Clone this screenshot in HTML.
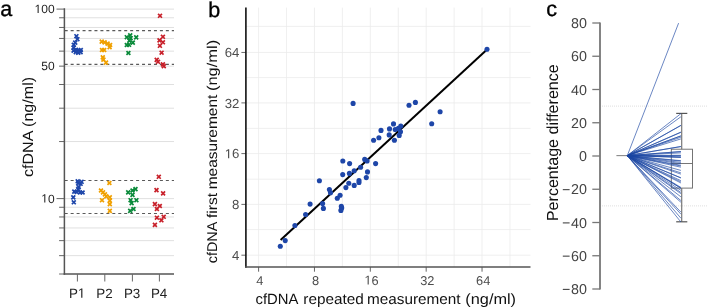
<!DOCTYPE html>
<html><head><meta charset="utf-8"><style>
html,body{margin:0;padding:0;background:#fff;}
svg{display:block;font-family:"Liberation Sans", sans-serif;text-rendering:geometricPrecision;will-change:transform;}
</style></head><body>
<svg width="708" height="308" viewBox="0 0 708 308">
<line x1="64.4" y1="9.10" x2="174" y2="9.10" stroke="#e0e0e0" stroke-width="1"/>
<line x1="64.4" y1="17.77" x2="174" y2="17.77" stroke="#e0e0e0" stroke-width="1"/>
<line x1="64.4" y1="27.46" x2="174" y2="27.46" stroke="#e0e0e0" stroke-width="1"/>
<line x1="64.4" y1="38.45" x2="174" y2="38.45" stroke="#e0e0e0" stroke-width="1"/>
<line x1="64.4" y1="51.14" x2="174" y2="51.14" stroke="#e0e0e0" stroke-width="1"/>
<line x1="64.4" y1="66.15" x2="174" y2="66.15" stroke="#e0e0e0" stroke-width="1"/>
<line x1="64.4" y1="84.51" x2="174" y2="84.51" stroke="#e0e0e0" stroke-width="1"/>
<line x1="64.4" y1="108.19" x2="174" y2="108.19" stroke="#e0e0e0" stroke-width="1"/>
<line x1="64.4" y1="141.55" x2="174" y2="141.55" stroke="#e0e0e0" stroke-width="1"/>
<line x1="64.4" y1="198.60" x2="174" y2="198.60" stroke="#e0e0e0" stroke-width="1"/>
<line x1="64.4" y1="207.27" x2="174" y2="207.27" stroke="#e0e0e0" stroke-width="1"/>
<line x1="64.4" y1="216.96" x2="174" y2="216.96" stroke="#e0e0e0" stroke-width="1"/>
<line x1="64.4" y1="227.95" x2="174" y2="227.95" stroke="#e0e0e0" stroke-width="1"/>
<line x1="64.4" y1="240.64" x2="174" y2="240.64" stroke="#e0e0e0" stroke-width="1"/>
<line x1="64.4" y1="255.65" x2="174" y2="255.65" stroke="#e0e0e0" stroke-width="1"/>
<line x1="64.7" y1="30.6" x2="174" y2="30.6" stroke="#5a5a5a" stroke-width="1.1" stroke-dasharray="3 2.95"/>
<line x1="64.7" y1="64.4" x2="174" y2="64.4" stroke="#5a5a5a" stroke-width="1.1" stroke-dasharray="3 2.95"/>
<line x1="64.7" y1="180.5" x2="174" y2="180.5" stroke="#5a5a5a" stroke-width="1.1" stroke-dasharray="3 2.95"/>
<line x1="64.7" y1="213.5" x2="174" y2="213.5" stroke="#5a5a5a" stroke-width="1.1" stroke-dasharray="3 2.95"/>
<line x1="56.5" y1="9.10" x2="64.4" y2="9.10" stroke="#666" stroke-width="1"/>
<line x1="59.1" y1="17.77" x2="64.4" y2="17.77" stroke="#666" stroke-width="1"/>
<line x1="59.1" y1="27.46" x2="64.4" y2="27.46" stroke="#666" stroke-width="1"/>
<line x1="59.1" y1="38.45" x2="64.4" y2="38.45" stroke="#666" stroke-width="1"/>
<line x1="59.1" y1="51.14" x2="64.4" y2="51.14" stroke="#666" stroke-width="1"/>
<line x1="59.1" y1="66.15" x2="64.4" y2="66.15" stroke="#666" stroke-width="1"/>
<line x1="59.1" y1="84.51" x2="64.4" y2="84.51" stroke="#666" stroke-width="1"/>
<line x1="59.1" y1="108.19" x2="64.4" y2="108.19" stroke="#666" stroke-width="1"/>
<line x1="59.1" y1="141.55" x2="64.4" y2="141.55" stroke="#666" stroke-width="1"/>
<line x1="56.5" y1="198.60" x2="64.4" y2="198.60" stroke="#666" stroke-width="1"/>
<line x1="59.1" y1="207.27" x2="64.4" y2="207.27" stroke="#666" stroke-width="1"/>
<line x1="59.1" y1="216.96" x2="64.4" y2="216.96" stroke="#666" stroke-width="1"/>
<line x1="59.1" y1="227.95" x2="64.4" y2="227.95" stroke="#666" stroke-width="1"/>
<line x1="59.1" y1="240.64" x2="64.4" y2="240.64" stroke="#666" stroke-width="1"/>
<line x1="59.1" y1="255.65" x2="64.4" y2="255.65" stroke="#666" stroke-width="1"/>
<line x1="59.1" y1="274.01" x2="64.4" y2="274.01" stroke="#666" stroke-width="1"/>
<line x1="64.4" y1="8.3" x2="64.4" y2="274.7" stroke="#555" stroke-width="1.5"/>
<line x1="63.650000000000006" y1="274" x2="174" y2="274" stroke="#555" stroke-width="1.5"/>
<line x1="77.4" y1="274" x2="77.4" y2="281.5" stroke="#666" stroke-width="1"/>
<text x="77.1" y="297.7" font-size="13.4" text-anchor="middle" fill="#222">P </text><path d="M515,0L515,1237L197,1010L197,1180L530,1409L696,1409L696,0Z" fill="#222" transform="translate(77.843,297.7) scale(0.006543,-0.006543)"/>
<line x1="104.8" y1="274" x2="104.8" y2="281.5" stroke="#666" stroke-width="1"/>
<text x="104.5" y="297.7" font-size="13.4" text-anchor="middle" fill="#222">P2</text>
<line x1="132.4" y1="274" x2="132.4" y2="281.5" stroke="#666" stroke-width="1"/>
<text x="132.1" y="297.7" font-size="13.4" text-anchor="middle" fill="#222">P3</text>
<line x1="159.4" y1="274" x2="159.4" y2="281.5" stroke="#666" stroke-width="1"/>
<text x="159.1" y="297.7" font-size="13.4" text-anchor="middle" fill="#222">P4</text>
<text x="54.6" y="13.1" font-size="12" text-anchor="end" fill="#222"> 00</text><path d="M515,0L515,1237L197,1010L197,1180L530,1409L696,1409L696,0Z" fill="#222" transform="translate(34.579,13.1) scale(0.005859,-0.005859)"/>
<text x="54.6" y="70.0" font-size="12" text-anchor="end" fill="#222">50</text>
<text x="54.6" y="202.6" font-size="12" text-anchor="end" fill="#222"> 0</text><path d="M515,0L515,1237L197,1010L197,1180L530,1409L696,1409L696,0Z" fill="#222" transform="translate(41.252,202.6) scale(0.005859,-0.005859)"/>
<text transform="translate(33,177) rotate(-90)" font-size="14.8" textLength="100.1" lengthAdjust="spacingAndGlyphs" fill="#111">cfDNA (ng/ml)</text>
<text x="0.2" y="16.0" font-size="21.5" fill="#000" stroke="#000" stroke-width="0.35">a</text>
<path d="M74.45,34.25L78.35,38.15M74.45,38.15L78.35,34.25" stroke="#1e46aa" stroke-width="1.7"/>
<path d="M75.45,37.25L79.35,41.15M75.45,41.15L79.35,37.25" stroke="#1e46aa" stroke-width="1.7"/>
<path d="M73.25,40.65L77.15,44.55M73.25,44.55L77.15,40.65" stroke="#1e46aa" stroke-width="1.7"/>
<path d="M71.85,42.85L75.75,46.75M71.85,46.75L75.75,42.85" stroke="#1e46aa" stroke-width="1.7"/>
<path d="M71.65,45.65L75.55,49.55M71.65,49.55L75.55,45.65" stroke="#1e46aa" stroke-width="1.7"/>
<path d="M71.65,48.65L75.55,52.55M71.65,52.55L75.55,48.65" stroke="#1e46aa" stroke-width="1.7"/>
<path d="M73.85,50.25L77.75,54.15M73.85,54.15L77.75,50.25" stroke="#1e46aa" stroke-width="1.7"/>
<path d="M76.25,50.85L80.15,54.75M76.25,54.75L80.15,50.85" stroke="#1e46aa" stroke-width="1.7"/>
<path d="M78.65,50.25L82.55,54.15M78.65,54.15L82.55,50.25" stroke="#1e46aa" stroke-width="1.7"/>
<path d="M78.85,48.05L82.75,51.95M78.85,51.95L82.75,48.05" stroke="#1e46aa" stroke-width="1.7"/>
<path d="M76.25,48.25L80.15,52.15M76.25,52.15L80.15,48.25" stroke="#1e46aa" stroke-width="1.7"/>
<path d="M74.05,47.85L77.95,51.75M74.05,51.75L77.95,47.85" stroke="#1e46aa" stroke-width="1.7"/>
<path d="M75.75,179.35L79.65,183.25M75.75,183.25L79.65,179.35" stroke="#1e46aa" stroke-width="1.7"/>
<path d="M79.65,179.85L83.55,183.75M79.65,183.75L83.55,179.85" stroke="#1e46aa" stroke-width="1.7"/>
<path d="M76.25,181.35L80.15,185.25M76.25,185.25L80.15,181.35" stroke="#1e46aa" stroke-width="1.7"/>
<path d="M78.65,181.85L82.55,185.75M78.65,185.75L82.55,181.85" stroke="#1e46aa" stroke-width="1.7"/>
<path d="M76.75,185.25L80.65,189.15M76.75,189.15L80.65,185.25" stroke="#1e46aa" stroke-width="1.7"/>
<path d="M76.25,187.15L80.15,191.05M76.25,191.05L80.15,187.15" stroke="#1e46aa" stroke-width="1.7"/>
<path d="M72.35,189.65L76.25,193.55M72.35,193.55L76.25,189.65" stroke="#1e46aa" stroke-width="1.7"/>
<path d="M74.75,190.05L78.65,193.95M74.75,193.95L78.65,190.05" stroke="#1e46aa" stroke-width="1.7"/>
<path d="M78.15,190.55L82.05,194.45M78.15,194.45L82.05,190.55" stroke="#1e46aa" stroke-width="1.7"/>
<path d="M80.65,190.55L84.55,194.45M80.65,194.45L84.55,190.55" stroke="#1e46aa" stroke-width="1.7"/>
<path d="M71.35,195.45L75.25,199.35M71.35,199.35L75.25,195.45" stroke="#1e46aa" stroke-width="1.7"/>
<path d="M71.85,200.35L75.75,204.25M71.85,204.25L75.75,200.35" stroke="#1e46aa" stroke-width="1.7"/>
<path d="M99.75,39.65L103.65,43.55M99.75,43.55L103.65,39.65" stroke="#f0a000" stroke-width="1.7"/>
<path d="M102.65,40.45L106.55,44.35M102.65,44.35L106.55,40.45" stroke="#f0a000" stroke-width="1.7"/>
<path d="M105.65,41.65L109.55,45.55M105.65,45.55L109.55,41.65" stroke="#f0a000" stroke-width="1.7"/>
<path d="M108.15,43.05L112.05,46.95M108.15,46.95L112.05,43.05" stroke="#f0a000" stroke-width="1.7"/>
<path d="M107.65,45.25L111.55,49.15M107.65,49.15L111.55,45.25" stroke="#f0a000" stroke-width="1.7"/>
<path d="M100.05,48.05L103.95,51.95M100.05,51.95L103.95,48.05" stroke="#f0a000" stroke-width="1.7"/>
<path d="M102.25,48.05L106.15,51.95M102.25,51.95L106.15,48.05" stroke="#f0a000" stroke-width="1.7"/>
<path d="M100.85,55.45L104.75,59.35M100.85,59.35L104.75,55.45" stroke="#f0a000" stroke-width="1.7"/>
<path d="M101.45,57.65L105.35,61.55M101.45,61.55L105.35,57.65" stroke="#f0a000" stroke-width="1.7"/>
<path d="M104.05,60.65L107.95,64.55M104.05,64.55L107.95,60.65" stroke="#f0a000" stroke-width="1.7"/>
<path d="M107.45,181.05L111.35,184.95M107.45,184.95L111.35,181.05" stroke="#f0a000" stroke-width="1.7"/>
<path d="M99.05,188.55L102.95,192.45M99.05,192.45L102.95,188.55" stroke="#f0a000" stroke-width="1.7"/>
<path d="M101.05,190.45L104.95,194.35M101.05,194.35L104.95,190.45" stroke="#f0a000" stroke-width="1.7"/>
<path d="M102.95,192.45L106.85,196.35M102.95,196.35L106.85,192.45" stroke="#f0a000" stroke-width="1.7"/>
<path d="M104.35,194.45L108.25,198.35M104.35,198.35L108.25,194.45" stroke="#f0a000" stroke-width="1.7"/>
<path d="M107.85,195.35L111.75,199.25M107.85,199.25L111.75,195.35" stroke="#f0a000" stroke-width="1.7"/>
<path d="M107.85,198.65L111.75,202.55M107.85,202.55L111.75,198.65" stroke="#f0a000" stroke-width="1.7"/>
<path d="M100.05,198.25L103.95,202.15M100.05,202.15L103.95,198.25" stroke="#f0a000" stroke-width="1.7"/>
<path d="M107.85,202.15L111.75,206.05M107.85,206.05L111.75,202.15" stroke="#f0a000" stroke-width="1.7"/>
<path d="M107.85,208.95L111.75,212.85M107.85,212.85L111.75,208.95" stroke="#f0a000" stroke-width="1.7"/>
<path d="M124.85,35.25L128.75,39.15M124.85,39.15L128.75,35.25" stroke="#0a8a3a" stroke-width="1.7"/>
<path d="M128.25,33.45L132.15,37.35M128.25,37.35L132.15,33.45" stroke="#0a8a3a" stroke-width="1.7"/>
<path d="M128.65,36.25L132.55,40.15M128.65,40.15L132.55,36.25" stroke="#0a8a3a" stroke-width="1.7"/>
<path d="M134.25,35.45L138.15,39.35M134.25,39.35L138.15,35.45" stroke="#0a8a3a" stroke-width="1.7"/>
<path d="M127.45,38.65L131.35,42.55M127.45,42.55L131.35,38.65" stroke="#0a8a3a" stroke-width="1.7"/>
<path d="M130.85,40.65L134.75,44.55M130.85,44.55L134.75,40.65" stroke="#0a8a3a" stroke-width="1.7"/>
<path d="M124.85,43.05L128.75,46.95M124.85,46.95L128.75,43.05" stroke="#0a8a3a" stroke-width="1.7"/>
<path d="M127.05,42.85L130.95,46.75M127.05,46.75L130.95,42.85" stroke="#0a8a3a" stroke-width="1.7"/>
<path d="M126.45,51.05L130.35,54.95M126.45,54.95L130.35,51.05" stroke="#0a8a3a" stroke-width="1.7"/>
<path d="M133.55,187.15L137.45,191.05M133.55,191.05L137.45,187.15" stroke="#0a8a3a" stroke-width="1.7"/>
<path d="M130.55,188.55L134.45,192.45M130.55,192.45L134.45,188.55" stroke="#0a8a3a" stroke-width="1.7"/>
<path d="M126.25,190.45L130.15,194.35M126.25,194.35L130.15,190.45" stroke="#0a8a3a" stroke-width="1.7"/>
<path d="M130.55,192.95L134.45,196.85M130.55,196.85L134.45,192.95" stroke="#0a8a3a" stroke-width="1.7"/>
<path d="M128.65,198.25L132.55,202.15M128.65,202.15L132.55,198.25" stroke="#0a8a3a" stroke-width="1.7"/>
<path d="M134.45,198.25L138.35,202.15M134.45,202.15L138.35,198.25" stroke="#0a8a3a" stroke-width="1.7"/>
<path d="M129.65,201.15L133.55,205.05M129.65,205.05L133.55,201.15" stroke="#0a8a3a" stroke-width="1.7"/>
<path d="M131.55,207.05L135.45,210.95M131.55,210.95L135.45,207.05" stroke="#0a8a3a" stroke-width="1.7"/>
<path d="M128.25,208.95L132.15,212.85M128.25,212.85L132.15,208.95" stroke="#0a8a3a" stroke-width="1.7"/>
<path d="M158.05,13.85L161.95,17.75M158.05,17.75L161.95,13.85" stroke="#c8202a" stroke-width="1.7"/>
<path d="M160.95,34.85L164.85,38.75M160.95,38.75L164.85,34.85" stroke="#c8202a" stroke-width="1.7"/>
<path d="M157.55,38.45L161.45,42.35M157.55,42.35L161.45,38.45" stroke="#c8202a" stroke-width="1.7"/>
<path d="M160.95,40.35L164.85,44.25M160.95,44.25L164.85,40.35" stroke="#c8202a" stroke-width="1.7"/>
<path d="M157.95,43.85L161.85,47.75M157.95,47.75L161.85,43.85" stroke="#c8202a" stroke-width="1.7"/>
<path d="M159.65,50.75L163.55,54.65M159.65,54.65L163.55,50.75" stroke="#c8202a" stroke-width="1.7"/>
<path d="M154.75,57.95L158.65,61.85M154.75,61.85L158.65,57.95" stroke="#c8202a" stroke-width="1.7"/>
<path d="M156.05,59.85L159.95,63.75M156.05,63.75L159.95,59.85" stroke="#c8202a" stroke-width="1.7"/>
<path d="M160.95,62.45L164.85,66.35M160.95,66.35L164.85,62.45" stroke="#c8202a" stroke-width="1.7"/>
<path d="M161.85,64.15L165.75,68.05M161.85,68.05L165.75,64.15" stroke="#c8202a" stroke-width="1.7"/>
<path d="M156.85,174.85L160.75,178.75M156.85,178.75L160.75,174.85" stroke="#c8202a" stroke-width="1.7"/>
<path d="M154.55,188.15L158.45,192.05M154.55,192.05L158.45,188.15" stroke="#c8202a" stroke-width="1.7"/>
<path d="M161.15,191.45L165.05,195.35M161.15,195.35L165.05,191.45" stroke="#c8202a" stroke-width="1.7"/>
<path d="M152.95,202.15L156.85,206.05M152.95,206.05L156.85,202.15" stroke="#c8202a" stroke-width="1.7"/>
<path d="M157.85,204.05L161.75,207.95M157.85,207.95L161.75,204.05" stroke="#c8202a" stroke-width="1.7"/>
<path d="M154.95,207.05L158.85,210.95M154.95,210.95L158.85,207.05" stroke="#c8202a" stroke-width="1.7"/>
<path d="M154.95,215.75L158.85,219.65M154.95,219.65L158.85,215.75" stroke="#c8202a" stroke-width="1.7"/>
<path d="M161.75,214.85L165.65,218.75M161.75,218.75L165.65,214.85" stroke="#c8202a" stroke-width="1.7"/>
<path d="M159.45,218.35L163.35,222.25M159.45,222.25L163.35,218.35" stroke="#c8202a" stroke-width="1.7"/>
<path d="M152.95,222.95L156.85,226.85M152.95,226.85L156.85,222.95" stroke="#c8202a" stroke-width="1.7"/>
<line x1="258.60" y1="7.6" x2="258.60" y2="267" stroke="#ebebeb" stroke-width="0.8"/>
<line x1="286.53" y1="7.6" x2="286.53" y2="267" stroke="#ebebeb" stroke-width="0.8"/>
<line x1="314.46" y1="7.6" x2="314.46" y2="267" stroke="#ebebeb" stroke-width="0.8"/>
<line x1="342.39" y1="7.6" x2="342.39" y2="267" stroke="#ebebeb" stroke-width="0.8"/>
<line x1="370.32" y1="7.6" x2="370.32" y2="267" stroke="#ebebeb" stroke-width="0.8"/>
<line x1="398.25" y1="7.6" x2="398.25" y2="267" stroke="#ebebeb" stroke-width="0.8"/>
<line x1="426.18" y1="7.6" x2="426.18" y2="267" stroke="#ebebeb" stroke-width="0.8"/>
<line x1="454.11" y1="7.6" x2="454.11" y2="267" stroke="#ebebeb" stroke-width="0.8"/>
<line x1="482.04" y1="7.6" x2="482.04" y2="267" stroke="#ebebeb" stroke-width="0.8"/>
<line x1="509.97" y1="7.6" x2="509.97" y2="267" stroke="#ebebeb" stroke-width="0.8"/>
<line x1="245.9" y1="26.40" x2="530.5" y2="26.40" stroke="#ebebeb" stroke-width="0.8"/>
<line x1="245.9" y1="52.45" x2="530.5" y2="52.45" stroke="#ebebeb" stroke-width="0.8"/>
<line x1="245.9" y1="77.60" x2="530.5" y2="77.60" stroke="#ebebeb" stroke-width="0.8"/>
<line x1="245.9" y1="102.90" x2="530.5" y2="102.90" stroke="#ebebeb" stroke-width="0.8"/>
<line x1="245.9" y1="128.40" x2="530.5" y2="128.40" stroke="#ebebeb" stroke-width="0.8"/>
<line x1="245.9" y1="153.60" x2="530.5" y2="153.60" stroke="#ebebeb" stroke-width="0.8"/>
<line x1="245.9" y1="179.20" x2="530.5" y2="179.20" stroke="#ebebeb" stroke-width="0.8"/>
<line x1="245.9" y1="204.40" x2="530.5" y2="204.40" stroke="#ebebeb" stroke-width="0.8"/>
<line x1="245.9" y1="229.60" x2="530.5" y2="229.60" stroke="#ebebeb" stroke-width="0.8"/>
<line x1="245.9" y1="255.20" x2="530.5" y2="255.20" stroke="#ebebeb" stroke-width="0.8"/>
<line x1="258.60" y1="267" x2="258.60" y2="271.7" stroke="#555" stroke-width="0.9"/>
<text x="259.8" y="284.5" font-size="12.8" text-anchor="middle" fill="#4d4d4d">4</text>
<line x1="314.46" y1="267" x2="314.46" y2="271.7" stroke="#555" stroke-width="0.9"/>
<text x="315.66" y="284.5" font-size="12.8" text-anchor="middle" fill="#4d4d4d">8</text>
<line x1="370.32" y1="267" x2="370.32" y2="271.7" stroke="#555" stroke-width="0.9"/>
<text x="371.52" y="284.5" font-size="12.8" text-anchor="middle" fill="#4d4d4d"> 6</text><path d="M515,0L515,1237L197,1010L197,1180L530,1409L696,1409L696,0Z" fill="#4d4d4d" transform="translate(364.401,284.5) scale(0.006250,-0.006250)"/>
<line x1="426.18" y1="267" x2="426.18" y2="271.7" stroke="#555" stroke-width="0.9"/>
<text x="427.38" y="284.5" font-size="12.8" text-anchor="middle" fill="#4d4d4d">32</text>
<line x1="482.04" y1="267" x2="482.04" y2="271.7" stroke="#555" stroke-width="0.9"/>
<text x="483.24" y="284.5" font-size="12.8" text-anchor="middle" fill="#4d4d4d">64</text>
<line x1="241.4" y1="52.45" x2="245.9" y2="52.45" stroke="#444" stroke-width="0.8"/>
<text x="239.4" y="57.2" font-size="13.2" text-anchor="end" fill="#4d4d4d">64</text>
<line x1="241.4" y1="102.90" x2="245.9" y2="102.90" stroke="#444" stroke-width="0.8"/>
<text x="239.4" y="107.65" font-size="13.2" text-anchor="end" fill="#4d4d4d">32</text>
<line x1="241.4" y1="153.60" x2="245.9" y2="153.60" stroke="#444" stroke-width="0.8"/>
<text x="239.4" y="158.35" font-size="13.2" text-anchor="end" fill="#4d4d4d"> 6</text><path d="M515,0L515,1237L197,1010L197,1180L530,1409L696,1409L696,0Z" fill="#4d4d4d" transform="translate(224.718,158.35) scale(0.006445,-0.006445)"/>
<line x1="241.4" y1="204.40" x2="245.9" y2="204.40" stroke="#444" stroke-width="0.8"/>
<text x="239.4" y="209.15" font-size="13.2" text-anchor="end" fill="#4d4d4d">8</text>
<line x1="241.4" y1="255.20" x2="245.9" y2="255.20" stroke="#444" stroke-width="0.8"/>
<text x="239.4" y="259.95" font-size="13.2" text-anchor="end" fill="#4d4d4d">4</text>
<line x1="245.9" y1="7.6" x2="245.9" y2="267.75" stroke="#111" stroke-width="1.6"/>
<line x1="245.15" y1="267" x2="530.5" y2="267" stroke="#555" stroke-width="1.4"/>
<line x1="280.6" y1="240" x2="486.5" y2="50" stroke="#000" stroke-width="2"/>
<circle cx="280.3" cy="246.3" r="2.55" fill="#1e46a8"/>
<circle cx="285.2" cy="240.6" r="2.55" fill="#1e46a8"/>
<circle cx="294.9" cy="225.5" r="2.55" fill="#1e46a8"/>
<circle cx="305.6" cy="214.5" r="2.55" fill="#1e46a8"/>
<circle cx="310.1" cy="204.1" r="2.55" fill="#1e46a8"/>
<circle cx="319.4" cy="180.7" r="2.55" fill="#1e46a8"/>
<circle cx="322.6" cy="203.5" r="2.55" fill="#1e46a8"/>
<circle cx="323.4" cy="208.4" r="2.55" fill="#1e46a8"/>
<circle cx="329.4" cy="189.5" r="2.55" fill="#1e46a8"/>
<circle cx="330.5" cy="192.8" r="2.55" fill="#1e46a8"/>
<circle cx="337.3" cy="198.2" r="2.55" fill="#1e46a8"/>
<circle cx="340.1" cy="195.3" r="2.55" fill="#1e46a8"/>
<circle cx="341.3" cy="206.4" r="2.55" fill="#1e46a8"/>
<circle cx="341.7" cy="207.9" r="2.55" fill="#1e46a8"/>
<circle cx="340.9" cy="210.4" r="2.55" fill="#1e46a8"/>
<circle cx="342.7" cy="174.6" r="2.55" fill="#1e46a8"/>
<circle cx="345.9" cy="187.6" r="2.55" fill="#1e46a8"/>
<circle cx="348.8" cy="183.2" r="2.55" fill="#1e46a8"/>
<circle cx="349.4" cy="173.4" r="2.55" fill="#1e46a8"/>
<circle cx="342.8" cy="161.0" r="2.55" fill="#1e46a8"/>
<circle cx="349.6" cy="163.6" r="2.55" fill="#1e46a8"/>
<circle cx="354.2" cy="170.8" r="2.55" fill="#1e46a8"/>
<circle cx="360.6" cy="167.2" r="2.55" fill="#1e46a8"/>
<circle cx="364.7" cy="159.4" r="2.55" fill="#1e46a8"/>
<circle cx="367.1" cy="161.0" r="2.55" fill="#1e46a8"/>
<circle cx="375.6" cy="163.6" r="2.55" fill="#1e46a8"/>
<circle cx="367.5" cy="171.9" r="2.55" fill="#1e46a8"/>
<circle cx="366.3" cy="177.6" r="2.55" fill="#1e46a8"/>
<circle cx="359.0" cy="180.5" r="2.55" fill="#1e46a8"/>
<circle cx="359.0" cy="182.5" r="2.55" fill="#1e46a8"/>
<circle cx="354.2" cy="185.4" r="2.55" fill="#1e46a8"/>
<circle cx="353.1" cy="103.4" r="2.55" fill="#1e46a8"/>
<circle cx="373.6" cy="140.3" r="2.55" fill="#1e46a8"/>
<circle cx="378.9" cy="137.7" r="2.55" fill="#1e46a8"/>
<circle cx="381.0" cy="130.4" r="2.55" fill="#1e46a8"/>
<circle cx="389.5" cy="128.9" r="2.55" fill="#1e46a8"/>
<circle cx="393.5" cy="123.9" r="2.55" fill="#1e46a8"/>
<circle cx="389.2" cy="134.9" r="2.55" fill="#1e46a8"/>
<circle cx="394.4" cy="140.3" r="2.55" fill="#1e46a8"/>
<circle cx="395.2" cy="129.5" r="2.55" fill="#1e46a8"/>
<circle cx="398.4" cy="128.4" r="2.55" fill="#1e46a8"/>
<circle cx="400.8" cy="126.1" r="2.55" fill="#1e46a8"/>
<circle cx="400.5" cy="131.7" r="2.55" fill="#1e46a8"/>
<circle cx="399.2" cy="135.4" r="2.55" fill="#1e46a8"/>
<circle cx="409.0" cy="105.2" r="2.55" fill="#1e46a8"/>
<circle cx="415.4" cy="102.4" r="2.55" fill="#1e46a8"/>
<circle cx="440.1" cy="111.7" r="2.55" fill="#1e46a8"/>
<circle cx="431.7" cy="123.8" r="2.55" fill="#1e46a8"/>
<circle cx="487.0" cy="49.2" r="2.55" fill="#1e46a8"/>
<text x="255.57" y="304.4" font-size="14.8" textLength="42.88" lengthAdjust="spacingAndGlyphs" fill="#111">cfDNA</text>
<text x="303.38" y="304.4" font-size="14.8" textLength="60.47" lengthAdjust="spacingAndGlyphs" fill="#111">repeated</text>
<text x="367.0" y="304.4" font-size="14.8" textLength="93.59" lengthAdjust="spacingAndGlyphs" fill="#111">measurement</text>
<text x="465.33" y="304.4" font-size="14.8" textLength="50.71" lengthAdjust="spacingAndGlyphs" fill="#111">(ng/ml)</text>
<g transform="translate(216.6,262.7) rotate(-90)">
<text x="-0.53" y="0" font-size="14.2" textLength="41.56" lengthAdjust="spacingAndGlyphs" fill="#111">cfDNA</text>
<text x="44.7" y="0" font-size="14.2" textLength="25.09" lengthAdjust="spacingAndGlyphs" fill="#111">first</text>
<text x="73.35" y="0" font-size="14.2" textLength="94.77" lengthAdjust="spacingAndGlyphs" fill="#111">measurement</text>
<text x="171.6" y="0" font-size="14.2" textLength="51.4" lengthAdjust="spacingAndGlyphs" fill="#111">(ng/ml)</text>
</g>
<text x="208.2" y="17.0" font-size="21.5" fill="#000" stroke="#000" stroke-width="0.35">b</text>
<line x1="602" y1="106.12" x2="708" y2="106.12" stroke="#d6d6d6" stroke-width="0.8" stroke-dasharray="1 1"/>
<line x1="602" y1="205.88" x2="708" y2="205.88" stroke="#d6d6d6" stroke-width="0.8" stroke-dasharray="1 1"/>
<line x1="592.3" y1="23.00" x2="600" y2="23.00" stroke="#777" stroke-width="1.3"/>
<text x="587" y="28.10" font-size="14.3" text-anchor="end" fill="#444">80</text>
<line x1="592.3" y1="56.25" x2="600" y2="56.25" stroke="#777" stroke-width="1.3"/>
<text x="587" y="61.35" font-size="14.3" text-anchor="end" fill="#444">60</text>
<line x1="592.3" y1="89.50" x2="600" y2="89.50" stroke="#777" stroke-width="1.3"/>
<text x="587" y="94.60" font-size="14.3" text-anchor="end" fill="#444">40</text>
<line x1="592.3" y1="122.75" x2="600" y2="122.75" stroke="#777" stroke-width="1.3"/>
<text x="587" y="127.85" font-size="14.3" text-anchor="end" fill="#444">20</text>
<line x1="592.3" y1="156.00" x2="600" y2="156.00" stroke="#777" stroke-width="1.3"/>
<text x="587" y="161.10" font-size="14.3" text-anchor="end" fill="#444">0</text>
<line x1="592.3" y1="189.25" x2="600" y2="189.25" stroke="#777" stroke-width="1.3"/>
<text x="587" y="194.35" font-size="14.3" text-anchor="end" fill="#444">20</text>
<line x1="562.8" y1="189.65" x2="569.6" y2="189.65" stroke="#444" stroke-width="1.1"/>
<line x1="592.3" y1="222.50" x2="600" y2="222.50" stroke="#777" stroke-width="1.3"/>
<text x="587" y="227.60" font-size="14.3" text-anchor="end" fill="#444">40</text>
<line x1="562.8" y1="222.90" x2="569.6" y2="222.90" stroke="#444" stroke-width="1.1"/>
<line x1="592.3" y1="255.75" x2="600" y2="255.75" stroke="#777" stroke-width="1.3"/>
<text x="587" y="260.85" font-size="14.3" text-anchor="end" fill="#444">60</text>
<line x1="562.8" y1="256.15" x2="569.6" y2="256.15" stroke="#444" stroke-width="1.1"/>
<line x1="592.3" y1="289.00" x2="600" y2="289.00" stroke="#777" stroke-width="1.3"/>
<text x="587" y="294.10" font-size="14.3" text-anchor="end" fill="#444">80</text>
<line x1="562.8" y1="289.40" x2="569.6" y2="289.40" stroke="#444" stroke-width="1.1"/>
<line x1="600" y1="22.40" x2="600" y2="289.60" stroke="#777" stroke-width="1.8"/>
<text transform="translate(557.5,221.1) rotate(-90)" font-size="16" textLength="156.8" lengthAdjust="spacingAndGlyphs" fill="#111">Percentage difference</text>
<text x="546.2" y="16.4" font-size="21.5" fill="#000" stroke="#000" stroke-width="0.35">c</text>
<line x1="616.4" y1="155.6" x2="627.6" y2="155.6" stroke="#888" stroke-width="1.1"/>
<rect x="671.3" y="149.2" width="21.2" height="38.9" fill="none" stroke="#666" stroke-width="0.9"/>
<line x1="671.3" y1="163.5" x2="692.5" y2="163.5" stroke="#666" stroke-width="0.9"/>
<line x1="681.7" y1="113.4" x2="681.7" y2="149.2" stroke="#777" stroke-width="1.2"/>
<line x1="681.7" y1="188.1" x2="681.7" y2="221.8" stroke="#777" stroke-width="1.2"/>
<line x1="676.2" y1="113.4" x2="687.3" y2="113.4" stroke="#555" stroke-width="1.2"/>
<line x1="676.2" y1="221.8" x2="687.3" y2="221.8" stroke="#555" stroke-width="1.2"/>
<line x1="627.3" y1="155.6" x2="680.9" y2="180.68" stroke="#1b46a2" stroke-width="0.65"/>
<line x1="627.3" y1="155.6" x2="680.9" y2="177.84" stroke="#1b46a2" stroke-width="0.65"/>
<line x1="627.3" y1="155.6" x2="680.9" y2="163.67" stroke="#1b46a2" stroke-width="0.65"/>
<line x1="627.3" y1="155.6" x2="680.9" y2="160.68" stroke="#1b46a2" stroke-width="0.65"/>
<line x1="627.3" y1="155.6" x2="680.9" y2="146.60" stroke="#1b46a2" stroke-width="0.65"/>
<line x1="627.3" y1="155.6" x2="680.9" y2="113.64" stroke="#1b46a2" stroke-width="0.65"/>
<line x1="627.3" y1="155.6" x2="680.9" y2="170.42" stroke="#1b46a2" stroke-width="0.65"/>
<line x1="627.3" y1="155.6" x2="680.9" y2="182.97" stroke="#1b46a2" stroke-width="0.65"/>
<line x1="627.3" y1="155.6" x2="680.9" y2="152.86" stroke="#1b46a2" stroke-width="0.65"/>
<line x1="627.3" y1="155.6" x2="680.9" y2="162.44" stroke="#1b46a2" stroke-width="0.65"/>
<line x1="627.3" y1="155.6" x2="680.9" y2="188.20" stroke="#1b46a2" stroke-width="0.65"/>
<line x1="627.3" y1="155.6" x2="680.9" y2="187.38" stroke="#1b46a2" stroke-width="0.65"/>
<line x1="627.3" y1="155.6" x2="680.9" y2="214.15" stroke="#1b46a2" stroke-width="0.65"/>
<line x1="627.3" y1="155.6" x2="680.9" y2="218.18" stroke="#1b46a2" stroke-width="0.65"/>
<line x1="627.3" y1="155.6" x2="680.9" y2="222.00" stroke="#1b46a2" stroke-width="0.65"/>
<line x1="627.3" y1="155.6" x2="680.9" y2="146.48" stroke="#1b46a2" stroke-width="0.65"/>
<line x1="627.3" y1="155.6" x2="680.9" y2="181.90" stroke="#1b46a2" stroke-width="0.65"/>
<line x1="627.3" y1="155.6" x2="680.9" y2="177.94" stroke="#1b46a2" stroke-width="0.65"/>
<line x1="627.3" y1="155.6" x2="680.9" y2="157.23" stroke="#1b46a2" stroke-width="0.65"/>
<line x1="627.3" y1="155.6" x2="680.9" y2="116.76" stroke="#1b46a2" stroke-width="0.65"/>
<line x1="627.3" y1="155.6" x2="680.9" y2="135.95" stroke="#1b46a2" stroke-width="0.65"/>
<line x1="627.3" y1="155.6" x2="680.9" y2="161.11" stroke="#1b46a2" stroke-width="0.65"/>
<line x1="627.3" y1="155.6" x2="680.9" y2="166.00" stroke="#1b46a2" stroke-width="0.65"/>
<line x1="627.3" y1="155.6" x2="680.9" y2="156.82" stroke="#1b46a2" stroke-width="0.65"/>
<line x1="627.3" y1="155.6" x2="680.9" y2="165.26" stroke="#1b46a2" stroke-width="0.65"/>
<line x1="627.3" y1="155.6" x2="680.9" y2="188.18" stroke="#1b46a2" stroke-width="0.65"/>
<line x1="627.3" y1="155.6" x2="680.9" y2="190.36" stroke="#1b46a2" stroke-width="0.65"/>
<line x1="627.3" y1="155.6" x2="680.9" y2="200.56" stroke="#1b46a2" stroke-width="0.65"/>
<line x1="627.3" y1="155.6" x2="680.9" y2="192.41" stroke="#1b46a2" stroke-width="0.65"/>
<line x1="627.3" y1="155.6" x2="680.9" y2="196.83" stroke="#1b46a2" stroke-width="0.65"/>
<line x1="627.3" y1="155.6" x2="680.9" y2="193.66" stroke="#1b46a2" stroke-width="0.65"/>
<line x1="627.3" y1="155.6" x2="678.6" y2="23.1" stroke="#1b46a2" stroke-width="0.65"/>
<line x1="627.3" y1="155.6" x2="680.9" y2="132.37" stroke="#1b46a2" stroke-width="0.65"/>
<line x1="627.3" y1="155.6" x2="680.9" y2="137.19" stroke="#1b46a2" stroke-width="0.65"/>
<line x1="627.3" y1="155.6" x2="680.9" y2="125.30" stroke="#1b46a2" stroke-width="0.65"/>
<line x1="627.3" y1="155.6" x2="680.9" y2="138.90" stroke="#1b46a2" stroke-width="0.65"/>
<line x1="627.3" y1="155.6" x2="680.9" y2="135.84" stroke="#1b46a2" stroke-width="0.65"/>
<line x1="627.3" y1="155.6" x2="680.9" y2="151.56" stroke="#1b46a2" stroke-width="0.65"/>
<line x1="627.3" y1="155.6" x2="680.9" y2="174.11" stroke="#1b46a2" stroke-width="0.65"/>
<line x1="627.3" y1="155.6" x2="680.9" y2="151.61" stroke="#1b46a2" stroke-width="0.65"/>
<line x1="627.3" y1="155.6" x2="680.9" y2="155.57" stroke="#1b46a2" stroke-width="0.65"/>
<line x1="627.3" y1="155.6" x2="680.9" y2="155.27" stroke="#1b46a2" stroke-width="0.65"/>
<line x1="627.3" y1="155.6" x2="680.9" y2="167.20" stroke="#1b46a2" stroke-width="0.65"/>
<line x1="627.3" y1="155.6" x2="680.9" y2="172.85" stroke="#1b46a2" stroke-width="0.65"/>
<line x1="627.3" y1="155.6" x2="680.9" y2="125.50" stroke="#1b46a2" stroke-width="0.65"/>
<line x1="627.3" y1="155.6" x2="680.9" y2="132.05" stroke="#1b46a2" stroke-width="0.65"/>
<line x1="627.3" y1="155.6" x2="680.9" y2="202.22" stroke="#1b46a2" stroke-width="0.65"/>
<line x1="627.3" y1="155.6" x2="680.9" y2="212.08" stroke="#1b46a2" stroke-width="0.65"/>
<line x1="627.3" y1="155.6" x2="680.9" y2="157.41" stroke="#1b46a2" stroke-width="0.65"/>
</svg>
</body></html>
